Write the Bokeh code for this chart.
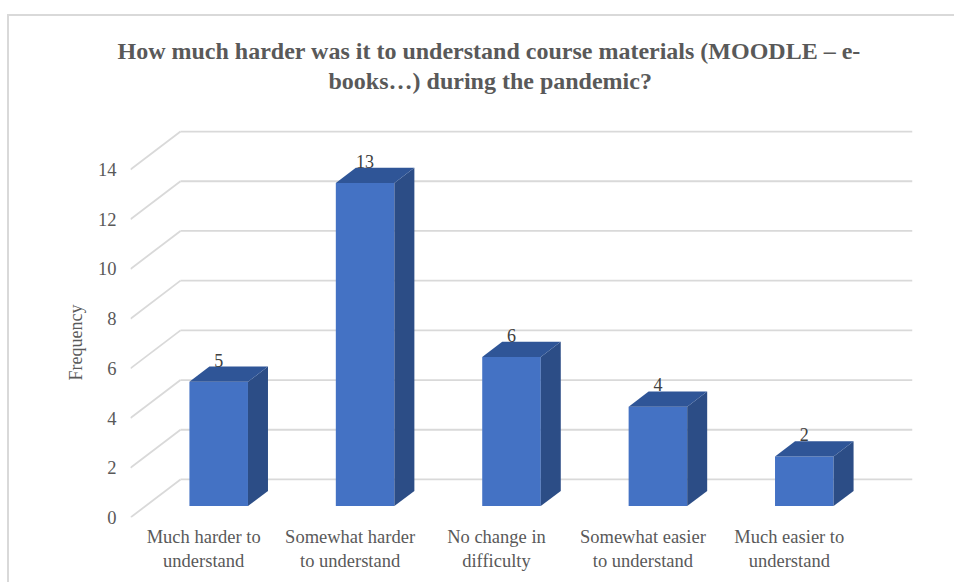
from bokeh.plotting import figure
from bokeh.models import Range1d, FixedTicker, ColumnDataSource, Title
from bokeh.embed import file_html
from bokeh.resources import INLINE

# ---- data ----
categories = ["Much harder to\nunderstand", "Somewhat harder\nto understand",
              "No change in\ndifficulty", "Somewhat easier\nto understand",
              "Much easier to\nunderstand"]
frequency = [5, 13, 6, 4, 2]
y_ticks = [0, 2, 4, 6, 8, 10, 12, 14]
y_label = "Frequency"
title_line1 = "How much harder was it to understand course materials (MOODLE \u2013 e-"
title_line2 = "books\u2026) during the pandemic?"

# ---- style / 3D geometry ----
FONT = "Liberation Serif"
DX, DY = 0.3415, 1.53          # full depth offset (data units)
BAR_W = 0.4                    # bar width (fraction of category)
F0, F1 = 0.3, 0.7              # bar front / back depth fraction
GRID = "#D9D9D9"
FRONT, TOP, SIDE = "#4472C4", "#2F5597", "#2C4D86"
TXT = "#595959"
Y_MAX = 17.06                  # headroom above the back wall

n = len(categories)
border_css = ("linear-gradient(#D9D9D9,#D9D9D9) 7px 14px / 960px 2px no-repeat, "
              "linear-gradient(#D9D9D9,#D9D9D9) 7px 14px / 2px 700px no-repeat, white")
p = figure(frame_width=782, frame_height=424, output_backend="svg", toolbar_location=None,
           x_range=Range1d(0, n + DX), y_range=Range1d(0, Y_MAX),
           min_border_left=130, min_border_top=93, min_border_right=42,
           min_border_bottom=65, styles={"background": border_css})
p.grid.visible = False
p.outline_line_color = None
p.background_fill_color = "white"
p.border_fill_alpha = 0

# back wall gridlines and floor/side diagonals
p.multi_line(xs=[[DX, n + DX] for t in y_ticks], ys=[[t + DY, t + DY] for t in y_ticks],
             line_color=GRID, line_width=1.8)
p.multi_line(xs=[[0, DX] for t in y_ticks], ys=[[t, t + DY] for t in y_ticks],
             line_color=GRID, line_width=1.8)

# bars
sx, sy, tx, ty, lx, ly = [], [], [], [], [], []
left, right, bottom, top = [], [], [], []
for i, v in enumerate(frequency):
    c = i + 0.5
    l0 = c - BAR_W / 2 + F0 * DX
    r0 = c + BAR_W / 2 + F0 * DX
    b0 = F0 * DY
    t0 = v + F0 * DY
    ddx, ddy = (F1 - F0) * DX, (F1 - F0) * DY
    left.append(l0); right.append(r0); bottom.append(b0); top.append(t0)
    sx.append([r0, r0 + ddx, r0 + ddx, r0]); sy.append([b0, b0 + ddy, t0 + ddy, t0])
    tx.append([l0, l0 + ddx, r0 + ddx, r0]); ty.append([t0, t0 + ddy, t0 + ddy, t0])
    lx.append(c + F0 * DX); ly.append(v + F1 * DY)

p.quad(left=left, right=right, bottom=bottom, top=top, fill_color=FRONT, line_color=None)
p.patches(xs=sx, ys=sy, fill_color=SIDE, line_color=None)
p.patches(xs=tx, ys=ty, fill_color=TOP, line_color=None)

src = ColumnDataSource(dict(x=lx, y=ly, t=[str(v) for v in frequency]))
p.text(x="x", y="y", text="t", source=src, text_align="center", text_baseline="bottom",
       text_font_size="18px", text_color="#404040", text_font={"value": FONT})

# axes
p.yaxis.ticker = FixedTicker(ticks=y_ticks)
p.yaxis.axis_line_color = None
p.yaxis.major_tick_line_color = None
p.yaxis.minor_tick_line_color = None
p.yaxis.major_tick_in = 0
p.yaxis.major_tick_out = 0
p.yaxis.major_label_standoff = 14
p.yaxis.major_label_text_font = FONT
p.yaxis.major_label_text_font_size = "18.5px"
p.yaxis.major_label_text_color = TXT

# y-axis title, placed beside the front plane of the chart
ylab = Title(text=y_label, align="left", offset=137, standoff=18,
             text_font=FONT, text_font_size="18px", text_font_style="normal",
             text_color=TXT)
p.add_layout(ylab, "left")

p.xaxis.ticker = FixedTicker(ticks=[i + 0.5 for i in range(n)])
p.xaxis.major_label_overrides = {i + 0.5: lab for i, lab in enumerate(categories)}
p.xaxis.axis_line_color = None
p.xaxis.major_tick_line_color = None
p.xaxis.minor_tick_line_color = None
p.xaxis.major_tick_in = 0
p.xaxis.major_tick_out = 0
p.xaxis.major_label_standoff = 9
p.xaxis.major_label_text_font = FONT
p.xaxis.major_label_text_font_size = "18.5px"
p.xaxis.major_label_text_color = TXT

# title (two centred lines)
def style_title(t, standoff, offset):
    t.align = "left"
    t.offset = offset
    t.standoff = standoff
    t.text_font = FONT
    t.text_font_size = "24px"
    t.text_font_style = "bold"
    t.text_color = TXT

p.title.text = title_line1
style_title(p.title, 4, -13)
t2 = Title(text=title_line2)
style_title(t2, 0, 198)
p.add_layout(t2, "above")

open("out.html", "w").write(file_html(p, INLINE))
